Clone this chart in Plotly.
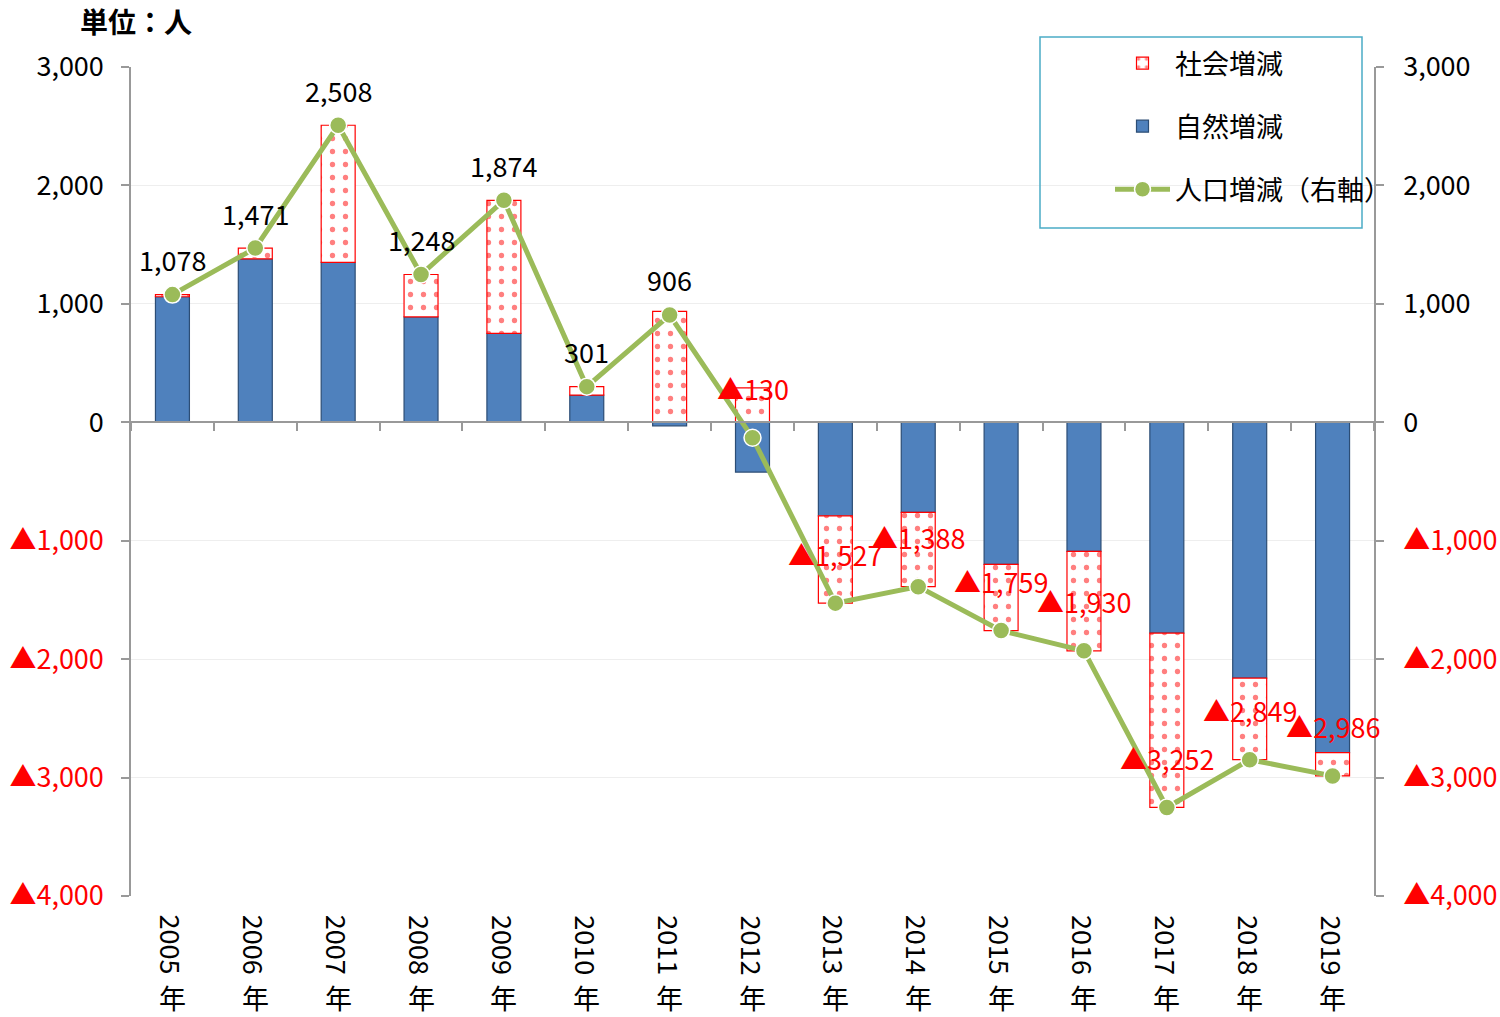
import plotly.graph_objects as go

years = ["2005", "2006", "2007", "2008", "2009", "2010", "2011", "2012",
         "2013", "2014", "2015", "2016", "2017", "2018", "2019"]
natural = [1060, 1380, 1350, 890, 750, 230, -30, -420,
           -790, -760, -1200, -1090, -1780, -2160, -2790]
social = [18, 91, 1158, 358, 1124, 71, 936, 290,
          -737, -628, -559, -840, -1472, -689, -196]
total = [1078, 1471, 2508, 1248, 1874, 301, 906, -130,
         -1527, -1388, -1759, -1930, -3252, -2849, -2986]
tick_vals = [-4000, -3000, -2000, -1000, 0, 1000, 2000, 3000]

FONT = "Noto Sans CJK JP"
RED = "#ff0000"
FS = 27


def fmt(v):
    if v < 0:
        return "<span style='color:#ff0000'>▲" + f"{-v:,}" + "</span>"
    return f"{v:,}"


tick_text = [fmt(v) for v in tick_vals]

fig = go.Figure()
fig.add_trace(go.Bar(
    x=years, y=natural, name="自然増減", legendrank=2, legendgroup="b",
    marker=dict(color="#4f81bd", line=dict(color="#2c4d75", width=1.2)),
    width=0.41,
))
fig.add_trace(go.Bar(
    x=years, y=social, name="社会増減", legendrank=1, legendgroup="a",
    marker=dict(color="white", line=dict(color=RED, width=1.2),
                pattern=dict(shape=".", fgcolor=RED, bgcolor="white",
                             size=13, solidity=0.13)),
    width=0.41,
))
fig.add_trace(go.Scatter(
    x=years, y=total, name="人口増減（右軸）", legendrank=3, legendgroup="c",
    yaxis="y2", mode="lines+markers",
    line=dict(color="#9bbb59", width=5),
    marker=dict(size=17, color="#9bbb59", line=dict(color="white", width=1.5)),
))

annotations = []
for i, v in enumerate(total):
    if v >= 0:
        annotations.append(dict(x=i, y=v, xref="x", yref="y2", text=f"{v:,}",
                                showarrow=False, yshift=35, yanchor="middle",
                                font=dict(size=FS, color="black", family=FONT)))
    else:
        annotations.append(dict(x=i, y=v, xref="x", yref="y2", text="▲" + f"{-v:,}",
                                showarrow=False, yshift=49, yanchor="middle",
                                font=dict(size=FS, color=RED, family=FONT)))
# category labels: rotated year + upright 年
for i, yr in enumerate(years):
    annotations.append(dict(x=i, y=0, xref="x", yref="paper", text=yr,
                            textangle=90, showarrow=False, yanchor="top",
                            yshift=-17, font=dict(size=FS, color="black", family=FONT)))
    annotations.append(dict(x=i, y=0, xref="x", yref="paper", text="年",
                            showarrow=False, yanchor="top", borderpad=0,
                            yshift=-81, font=dict(size=FS, color="black", family=FONT)))

fig.update_layout(
    width=1500, height=1017,
    margin=dict(l=131, r=126, t=67, b=121, autoexpand=False),
    paper_bgcolor="white", plot_bgcolor="white",
    barmode="relative", bargap=0.59,
    font=dict(family=FONT, size=FS, color="black"),
    title=dict(text="<b>単位：人</b>", x=80 / 1500, xanchor="left",
               y=1 - 23 / 1017, yanchor="middle", xref="container", yref="container",
               font=dict(size=28, family=FONT, color="black")),
    showlegend=True,
    legend=dict(x=1110 / 1500, y=1 - 39 / 1017, xanchor="left", yanchor="top",
                xref="container", yref="container",
                bgcolor="rgba(0,0,0,0)", borderwidth=0,
                tracegroupgap=25, itemwidth=55, traceorder="grouped",
                font=dict(size=FS, family=FONT, color="black")),
    xaxis=dict(type="category", anchor="free", position=4 / 7,
               range=[-0.5, len(years) - 0.5],
               showline=True, linecolor="#999999", linewidth=1.5,
               ticks="outside", ticklen=8, tickcolor="#999999", tickwidth=1.5,
               tickson="boundaries", showticklabels=False, showgrid=False,
               zeroline=False, automargin=False),
    yaxis=dict(range=[-4000, 3000], tickvals=tick_vals, ticktext=tick_text,
               showline=True, linecolor="#999999", linewidth=1.5,
               ticks="outside", ticklen=8, tickcolor="#999999", tickwidth=1.5,
               ticklabelstandoff=12,
               showgrid=True, gridcolor="#eeeeee", gridwidth=1, zeroline=False,
               automargin=False,
               tickfont=dict(size=FS, family=FONT, color="black")),
    yaxis2=dict(range=[-4000, 3000], tickvals=tick_vals, ticktext=tick_text,
                overlaying="y", side="right",
                showline=True, linecolor="#999999", linewidth=1.5,
                ticks="outside", ticklen=8, tickcolor="#999999", tickwidth=1.5,
                ticklabelstandoff=14,
                showgrid=False, zeroline=False, automargin=False,
                tickfont=dict(size=FS, family=FONT, color="black")),
    annotations=annotations,
    shapes=[dict(type="rect", xref="paper", yref="paper",
                 x0=(1040 - 131) / 1243, x1=(1362 - 131) / 1243,
                 y0=(896 - 228) / 829, y1=(896 - 37) / 829,
                 line=dict(color="#4bacc6", width=1.5), fillcolor="rgba(0,0,0,0)",
                 layer="above")],
)

fig.write_html("out.html",
               config={"displayModeBar": False},
               post_script="document.body.style.margin='0';"
                           "document.body.style.overflow='hidden';")
